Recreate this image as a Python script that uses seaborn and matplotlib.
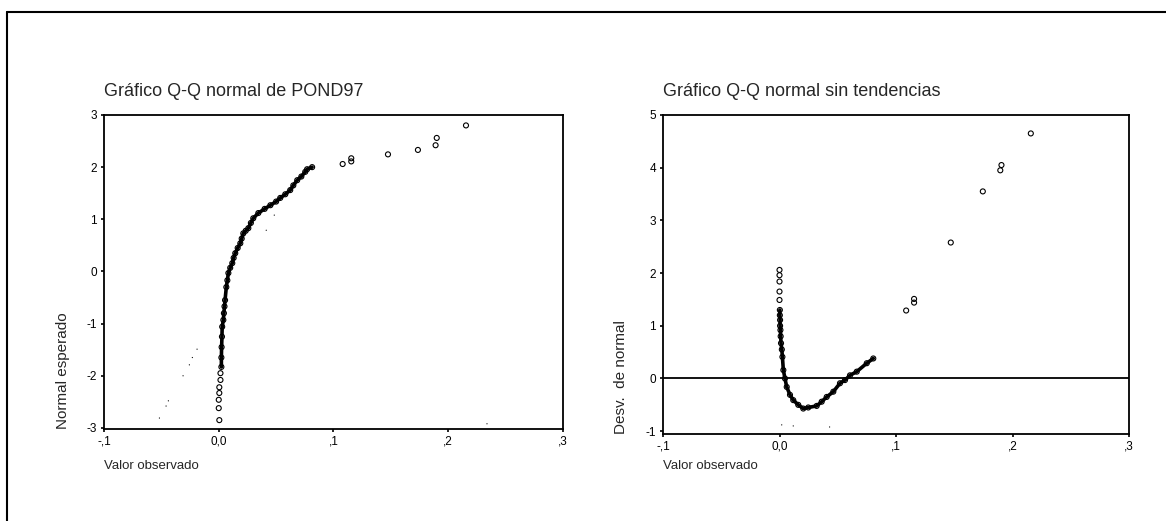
import numpy as np
import pandas as pd
import seaborn as sns
import matplotlib.ticker as mticker
from matplotlib import pyplot as plt
from matplotlib.lines import Line2D

sns.set_theme(style="ticks")
plt.rcParams["font.family"] = ["Liberation Sans", "DejaVu Sans"]
plt.rcParams["axes.unicode_minus"] = False

# Grafico Q-Q normal de POND97 (valor observado / normal esperado)
qq_obs = [0.0005, 0.0, 0.0, 0.0005, 0.0005, 0.0015, 0.0015,
          0.0023, 0.0023, 0.0025, 0.0028, 0.003, 0.004, 0.0045, 0.005, 0.0055,
          0.0066, 0.0075, 0.0084, 0.010, 0.0118, 0.013, 0.0144, 0.0165, 0.0188,
          0.020, 0.0214, 0.0235, 0.0258, 0.028, 0.0301, 0.0345, 0.040, 0.045,
          0.050, 0.0536, 0.058, 0.0623, 0.065, 0.0684, 0.072, 0.0754, 0.077, 0.0814,
          0.108, 0.1155, 0.1155, 0.1475, 0.1736, 0.189, 0.190, 0.2155]
qq_exp = [-2.85, -2.62, -2.46, -2.33, -2.22, -2.08, -1.95,
          -1.83, -1.65, -1.45, -1.25, -1.06, -0.93, -0.80, -0.67, -0.55,
          -0.30, -0.17, -0.03, 0.07, 0.16, 0.26, 0.35, 0.45, 0.54,
          0.63, 0.73, 0.78, 0.83, 0.93, 1.02, 1.12, 1.20, 1.27,
          1.34, 1.41, 1.48, 1.56, 1.65, 1.75, 1.82, 1.91, 1.96, 2.00,
          2.06, 2.11, 2.17, 2.245, 2.33, 2.42, 2.56, 2.80]
qq_dense = (7, 44)  # tramo donde los puntos forman la curva continua
# puntos tenues de la recta de referencia (escaneo)
ref1_x = [-0.0517, -0.0459, -0.0439, -0.0311, -0.0256, -0.023, -0.0189, 0.0414, 0.0484, 0.2338]
ref1_y = [-2.81, -2.58, -2.48, -2.00, -1.79, -1.65, -1.49, 0.79, 1.08, -2.92]

# Grafico Q-Q normal sin tendencias (valor observado / desv. de normal)
dt_obs = [0.0, 0.0, 0.0, 0.0, 0.0, 0.0003, 0.0003, 0.0005, 0.0005, 0.0008,
          0.001, 0.0013, 0.002, 0.0025, 0.0033, 0.0047, 0.0062, 0.009, 0.0118,
          0.0161, 0.0204, 0.0247, 0.0319, 0.0362, 0.0405, 0.0462, 0.0519,
          0.0562, 0.0605, 0.0663, 0.0749, 0.0805,
          0.1087, 0.1155, 0.1155, 0.147, 0.1745, 0.1895, 0.1905, 0.2157]
dt_dev = [2.06, 1.96, 1.84, 1.65, 1.49, 1.30, 1.20, 1.11, 1.00, 0.92,
          0.80, 0.67, 0.55, 0.41, 0.16, 0.0, -0.16, -0.31, -0.41,
          -0.50, -0.57, -0.55, -0.52, -0.44, -0.35, -0.25, -0.09,
          -0.03, 0.06, 0.13, 0.29, 0.38,
          1.29, 1.44, 1.51, 2.58, 3.55, 3.95, 4.05, 4.65]
dt_dense = (5, 32)
ref2_x = [0.0019, 0.0118, 0.043]
ref2_y = [-0.88, -0.90, -0.92]

x_ticks = [-0.1, 0.0, 0.1, 0.2, 0.3]


def coma(v, pos):
    s = "{:.1f}".format(v).replace(".", ",")
    if abs(v) < 1e-9:
        return "0,0"
    return s.replace("0,", ",")


def panel(ax, xs, ys, dense, rx, ry, ylim, yticks, title, ylabel):
    df = pd.DataFrame({"x": xs, "y": ys})
    sns.lineplot(data=df.iloc[dense[0]:dense[1]], x="x", y="y", sort=False, ax=ax,
                 color="black", lw=2.6, estimator=None)
    sns.scatterplot(data=df, x="x", y="y", ax=ax, marker="o", s=13,
                    facecolor="none", edgecolor="black", linewidth=0.8)
    sns.scatterplot(x=rx, y=ry, ax=ax, marker=".", s=3, color="black",
                    edgecolor="none")
    ax.set_xlim(-0.1, 0.3)
    ax.set_ylim(*ylim)
    ax.set_xticks(x_ticks)
    ax.set_yticks(yticks)
    ax.xaxis.set_major_formatter(mticker.FuncFormatter(coma))
    ax.yaxis.set_major_formatter(mticker.FormatStrFormatter("%d"))
    ax.tick_params(length=2, width=1.2, pad=3, labelsize=8.5, colors="black")
    for sp in ax.spines.values():
        sp.set_visible(True)
        sp.set_color("black")
        sp.set_linewidth(1.3)
    ax.set_title(title, loc="left", fontsize=13, pad=14)
    ax.set_xlabel("")
    ax.set_ylabel(ylabel, loc="bottom", fontsize=11)
    ax.yaxis.set_label_coords(-0.075, 0.0)
    x0 = ax.get_position().x0
    fig.text(x0, 0.106, "Valor observado", ha="left", va="center", fontsize=9.5)


fig = plt.figure(figsize=(11.66, 5.21), dpi=100)
ax1 = fig.add_axes([0.0892, 0.1766, 0.3936, 0.6027])
ax2 = fig.add_axes([0.5686, 0.1673, 0.3997, 0.6120])

panel(ax1, qq_obs, qq_exp, qq_dense, ref1_x, ref1_y, (-3.02, 3),
      [-3, -2, -1, 0, 1, 2, 3], "Gráfico Q-Q normal de POND97", "Normal esperado")
panel(ax2, dt_obs, dt_dev, dt_dense, ref2_x, ref2_y, (-1.05, 5),
      [-1, 0, 1, 2, 3, 4, 5], "Gráfico Q-Q normal sin tendencias", "Desv.  de normal")
ax2.axhline(0, color="black", lw=1.3)

# marco exterior
fig.add_artist(Line2D([0.006, 1.0], [0.977, 0.977], color="black", lw=1.5))
fig.add_artist(Line2D([0.006, 0.006], [0.0, 0.977], color="black", lw=1.5))

plt.savefig("out.png", dpi=100)
plt.close()
